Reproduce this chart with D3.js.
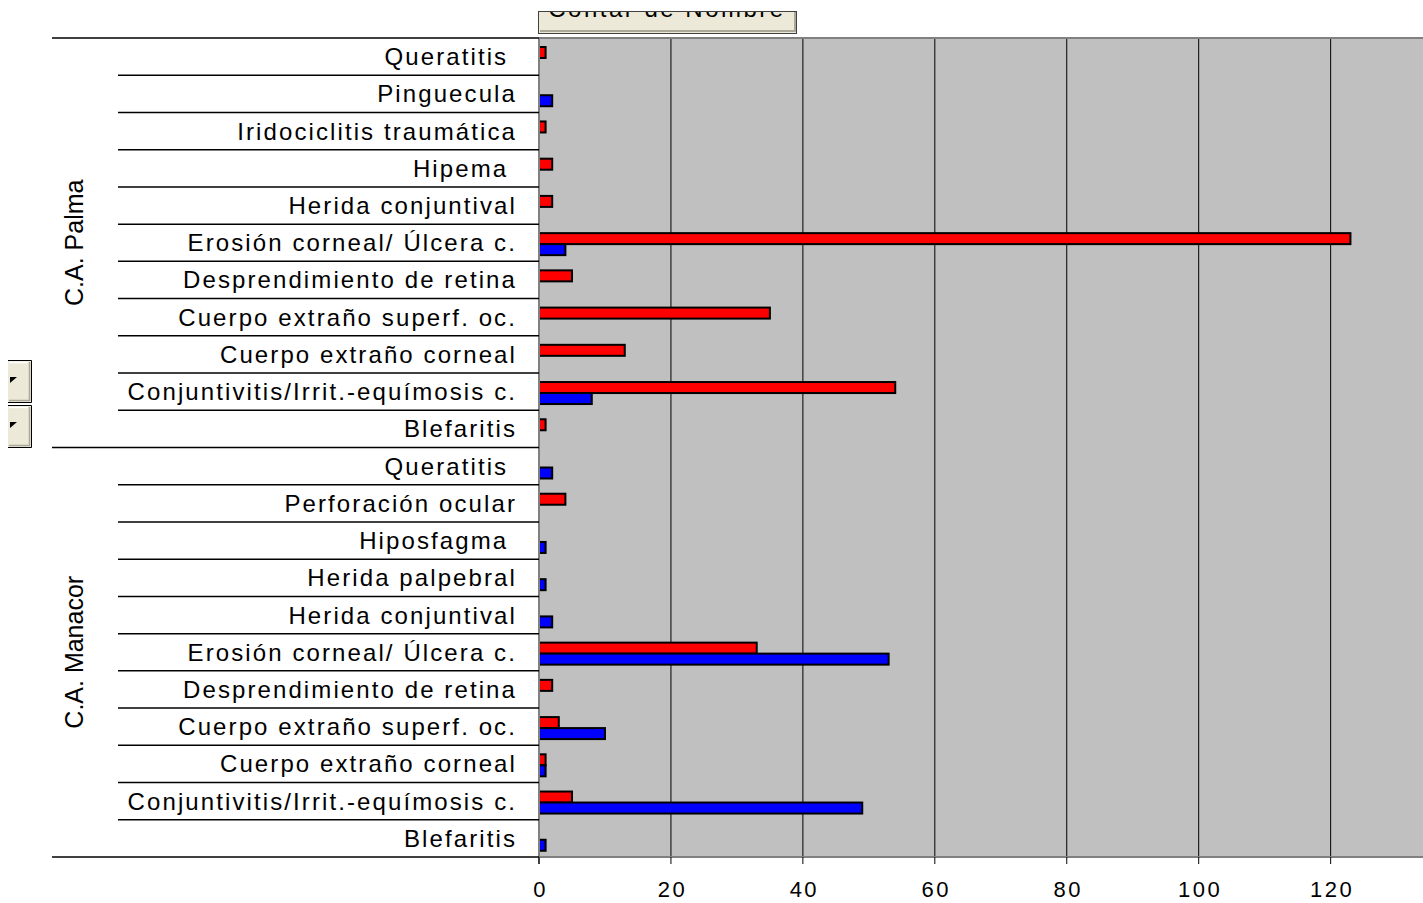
<!DOCTYPE html>
<html>
<head>
<meta charset="utf-8">
<script src="https://cdn.jsdelivr.net/npm/d3@7"></script>
<style>
  body { margin: 0; background: #fff; }
  svg { display: block; font-family: "Liberation Sans", Arial, sans-serif; }
</style>
</head>
<body>
<div id="chart"></div>
<script>
// data
var groups = ["C.A. Palma", "C.A. Manacor"];

var palmaCats = ["Queratitis ", "Pinguecula", "Iridociclitis traumática", "Hipema ", "Herida conjuntival",
    "Erosión corneal/ Úlcera c.", "Desprendimiento de retina", "Cuerpo extraño superf. oc.",
    "Cuerpo extraño corneal", "Conjuntivitis/Irrit.-equímosis c.", "Blefaritis"];
var palmaRed  = [1, 0, 1, 2, 2, 123, 5, 35, 13, 54, 1];
var palmaBlue = [0, 2, 0, 0, 0, 4, 0, 0, 0, 8, 0];

var manacorCats = ["Queratitis ", "Perforación ocular", "Hiposfagma ", "Herida palpebral", "Herida conjuntival",
    "Erosión corneal/ Úlcera c.", "Desprendimiento de retina", "Cuerpo extraño superf. oc.",
    "Cuerpo extraño corneal", "Conjuntivitis/Irrit.-equímosis c.", "Blefaritis"];
var manacorRed  = [0, 4, 0, 0, 0, 33, 2, 3, 1, 5, 0];
var manacorBlue = [2, 0, 1, 1, 2, 53, 0, 10, 1, 49, 1];

var xTicks = [0, 20, 40, 60, 80, 100, 120];

// STEP 1: dimensions
var svgWidth = 1423;
var svgHeight = 903;
var plot = { left: 539, right: 1423, top: 38, bottom: 857 };

var svg = d3.select("#chart")
    .append("svg")
    .attr("width", svgWidth)
    .attr("height", svgHeight);

// build rows
var rows = [];
[[palmaCats, palmaRed, palmaBlue, 0], [manacorCats, manacorRed, manacorBlue, 1]].forEach(function(g) {
    g[0].forEach(function(c, i) {
        rows.push({ key: g[3] + "|" + i, group: g[3], cat: c, red: g[1][i], blue: g[2][i] });
    });
});

// STEP 2: scales
var x = d3.scaleLinear().domain([0, 134]).range([plot.left, plot.right]);
var y = d3.scaleBand().domain(rows.map(d => d.key)).range([plot.top, plot.bottom]);
var ySub = d3.scaleBand().domain(["red", "blue"]).range([9, 31]);

// plot background
svg.append("rect")
    .attr("x", plot.left).attr("y", plot.top)
    .attr("width", plot.right - plot.left).attr("height", plot.bottom - plot.top)
    .attr("fill", "#c0c0c0");

// gridlines
svg.append("g").selectAll("line")
    .data(xTicks.filter(d => d > 0))
    .enter().append("line")
    .attr("x1", d => x(d)).attr("x2", d => x(d))
    .attr("y1", plot.top).attr("y2", plot.bottom)
    .attr("stroke", "#000").attr("stroke-width", 1);

// plot border (top/bottom gray)
svg.append("line").attr("x1", plot.left).attr("x2", plot.right).attr("y1", plot.top).attr("y2", plot.top)
    .attr("stroke", "#808080").attr("stroke-width", 2);
svg.append("line").attr("x1", plot.left).attr("x2", plot.right).attr("y1", plot.bottom).attr("y2", plot.bottom)
    .attr("stroke", "#808080").attr("stroke-width", 2);

// bars
var barG = svg.append("g");
["red", "blue"].forEach(function(s) {
    barG.selectAll(".bar-" + s)
        .data(rows.filter(d => d[s] > 0))
        .enter().append("rect")
        .attr("class", "bar-" + s)
        .attr("x", x(0))
        .attr("y", d => y(d.key) + ySub(s))
        .attr("width", d => x(d[s]) - x(0))
        .attr("height", ySub.bandwidth())
        .attr("fill", s === "red" ? "#ff0000" : "#0000ff")
        .attr("stroke", "#000")
        .attr("stroke-width", 2);
});

// left axis line
svg.append("line").attr("x1", plot.left).attr("x2", plot.left).attr("y1", plot.top).attr("y2", plot.bottom + 7)
    .attr("stroke", "#808080").attr("stroke-width", 2);

// bottom ticks + labels
var xAxisG = svg.append("g");
xAxisG.selectAll("line").data(xTicks).enter().append("line")
    .attr("x1", d => x(d)).attr("x2", d => x(d))
    .attr("y1", plot.bottom).attr("y2", plot.bottom + 7)
    .attr("stroke", "#000");
xAxisG.selectAll("text").data(xTicks).enter().append("text")
    .attr("x", d => x(d) + 1.5)
    .attr("y", 897)
    .attr("text-anchor", "middle")
    .attr("font-size", "22px")
    .attr("letter-spacing", "2.5px")
    .text(d => d);

// row separators (inner) and group separators
var boundaries = rows.map(d => y(d.key)).concat([plot.bottom]);
svg.append("g").selectAll("line")
    .data(boundaries)
    .enter().append("line")
    .attr("x1", (d, i) => (i % 11 === 0) ? 52 : 118)
    .attr("x2", plot.left)
    .attr("y1", d => d).attr("y2", d => d)
    .attr("stroke", "#000").attr("stroke-width", 1.5);

// category labels
svg.append("g").selectAll("text")
    .data(rows)
    .enter().append("text")
    .attr("x", 517)
    .attr("y", d => y(d.key) + y.bandwidth() / 2 + 8.5)
    .attr("text-anchor", "end")
    .attr("font-size", "24px")
    .attr("letter-spacing", "2.1px")
    .style("white-space", "pre")
    .text(d => d.cat);

// group labels
groups.forEach(function(g, gi) {
    var keys = rows.filter(d => d.group === gi).map(d => d.key);
    var cy = (y(keys[0]) + y(keys[keys.length - 1]) + y.bandwidth()) / 2;
    svg.append("text")
        .attr("transform", `translate(83, ${cy}) rotate(-90)`)
        .attr("text-anchor", "middle")
        .attr("font-size", "25px")
        .text(g);
});

// pivot field button at top, its caption only partly showing
svg.append("defs").append("clipPath").attr("id", "btnClip")
    .append("rect").attr("x", 539).attr("y", 12).attr("width", 257).attr("height", 21);
svg.append("rect").attr("x", 538.5).attr("y", 11.5).attr("width", 258).attr("height", 22)
    .attr("fill", "#ece9d8").attr("stroke", "#404040").attr("stroke-width", 1);
svg.append("path").attr("d", "M540,31H795V12").attr("fill", "none").attr("stroke", "#aca899").attr("stroke-width", 2);
svg.append("g").attr("clip-path", "url(#btnClip)")
    .append("text")
    .attr("x", 667).attr("y", 17)
    .attr("text-anchor", "middle")
    .attr("font-size", "24px")
    .attr("letter-spacing", "2.5px")
    .text("Contar de Nombre");

// two dropdown buttons on the left (cut at the left edge)
[360, 405].forEach(function(top) {
    var b = svg.append("g");
    b.append("rect").attr("x", 8).attr("y", top).attr("width", 24).attr("height", 43)
        .attr("fill", "#ece9d8");
    b.append("path").attr("d", `M8,${top + 0.5}H31.5V${top + 42.5}H8`).attr("fill", "none")
        .attr("stroke", "#000").attr("stroke-width", 1);
    b.append("path").attr("d", `M9,${top + 40.5}H29.5V${top + 2}`).attr("fill", "none")
        .attr("stroke", "#aca899").attr("stroke-width", 1.5);
    b.append("path").attr("d", `M9,${top + 2.5}H28`).attr("stroke", "#fff").attr("stroke-width", 1.5);
    b.append("path").attr("d", `M10,${top + 17}h7l-7,6z`).attr("fill", "#000");
});
</script>
</body>
</html>
